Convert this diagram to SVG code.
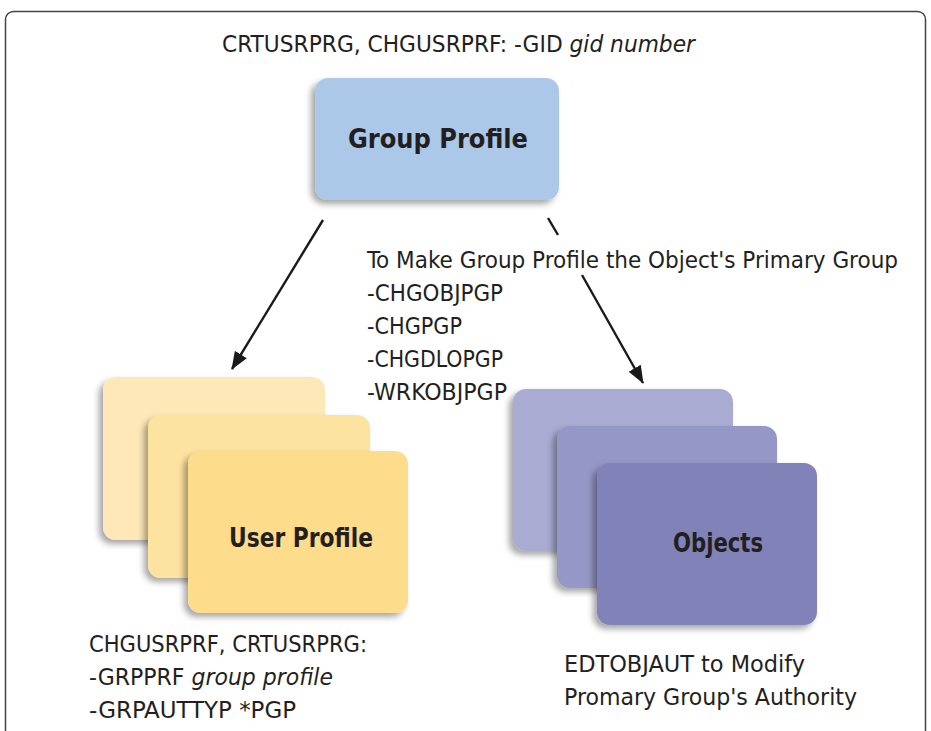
<svg xmlns="http://www.w3.org/2000/svg" width="931" height="731" viewBox="0 0 931 731">
<style>
.t{font-family:"DejaVu Sans","Liberation Sans",sans-serif;font-stretch:condensed;font-size:23px;fill:#231f20}
.b{font-family:"DejaVu Sans","Liberation Sans",sans-serif;font-stretch:condensed;font-size:27px;font-weight:bold;fill:#231f20}
.i{font-style:italic}
.card{filter:url(#sh)}
.conn{stroke:#1a1a1a;stroke-width:2.4;fill:none}
</style>
<defs>
<filter id="sh" x="-20%" y="-20%" width="140%" height="140%">
<feDropShadow dx="-4" dy="4" stdDeviation="3" flood-color="#000" flood-opacity="0.35"/>
</filter>
<marker id="ah" viewBox="0 0 18 14" refX="17" refY="7" markerWidth="18" markerHeight="14" markerUnits="userSpaceOnUse" orient="auto">
<path d="M0,0 L18,7 L0,14 Z" fill="#1a1a1a"/>
</marker>
</defs>
<rect width="931" height="731" fill="#fff"/>
<rect x="5.5" y="11.5" width="920" height="740" rx="8" fill="none" stroke="#444" stroke-width="1.5"/>

<text class="t" x="222" y="52" textLength="473" lengthAdjust="spacingAndGlyphs">CRTUSRPRG, CHGUSRPRF: -GID <tspan class="i">gid number</tspan></text>

<g id="group-profile">
<rect class="card" x="315" y="78" width="244" height="122" rx="13" fill="#abc8e8"/>
<text class="b" x="438" y="148" text-anchor="middle" textLength="180" lengthAdjust="spacingAndGlyphs">Group Profile</text>
</g>

<g id="user-profile">
<rect class="card" x="103" y="377" width="222" height="163" rx="13" fill="#fee8b7"/>
<rect class="card" x="148" y="415" width="222" height="163" rx="13" fill="#fde3a0"/>
<rect class="card" x="188" y="451" width="220" height="162" rx="13" fill="#fddd8b"/>
<text class="b" x="229" y="547" textLength="144" lengthAdjust="spacingAndGlyphs">User Profile</text>
</g>

<g id="objects">
<rect class="card" x="513" y="389" width="220" height="162" rx="13" fill="#a9abd3"/>
<rect class="card" x="557" y="426" width="220" height="162" rx="13" fill="#9597c6"/>
<rect class="card" x="597" y="463" width="220" height="162" rx="13" fill="#8082b8"/>
<text class="b" x="673" y="552" textLength="90" lengthAdjust="spacingAndGlyphs">Objects</text>
</g>

<g id="connectors">
<line class="conn" x1="323" y1="220" x2="232" y2="369" marker-end="url(#ah)"/>
<line class="conn" x1="548" y1="218" x2="558" y2="235"/>
<line class="conn" x1="582" y1="275" x2="643" y2="383" marker-end="url(#ah)"/>
</g>

<g id="labels">
<text class="t" x="367" y="268" textLength="531" lengthAdjust="spacingAndGlyphs">To Make Group Profile the Object's Primary Group</text>
<text class="t" x="367" y="301" textLength="136" lengthAdjust="spacingAndGlyphs">-CHGOBJPGP</text>
<text class="t" x="367" y="334" textLength="95" lengthAdjust="spacingAndGlyphs">-CHGPGP</text>
<text class="t" x="367" y="367" textLength="136" lengthAdjust="spacingAndGlyphs">-CHGDLOPGP</text>
<text class="t" x="367" y="400" textLength="140" lengthAdjust="spacingAndGlyphs">-WRKOBJPGP</text>

<text class="t" x="89" y="652" textLength="278" lengthAdjust="spacingAndGlyphs">CHGUSRPRF, CRTUSRPRG:</text>
<text class="t" x="89" y="685" textLength="244" lengthAdjust="spacingAndGlyphs">-GRPPRF <tspan class="i">group profile</tspan></text>
<text class="t" x="89" y="718" textLength="207" lengthAdjust="spacingAndGlyphs">-GRPAUTTYP *PGP</text>

<text class="t" x="564" y="672" textLength="241" lengthAdjust="spacingAndGlyphs">EDTOBJAUT to Modify</text>
<text class="t" x="564" y="705" textLength="293" lengthAdjust="spacingAndGlyphs">Promary Group's Authority</text>
</g>
</svg>
